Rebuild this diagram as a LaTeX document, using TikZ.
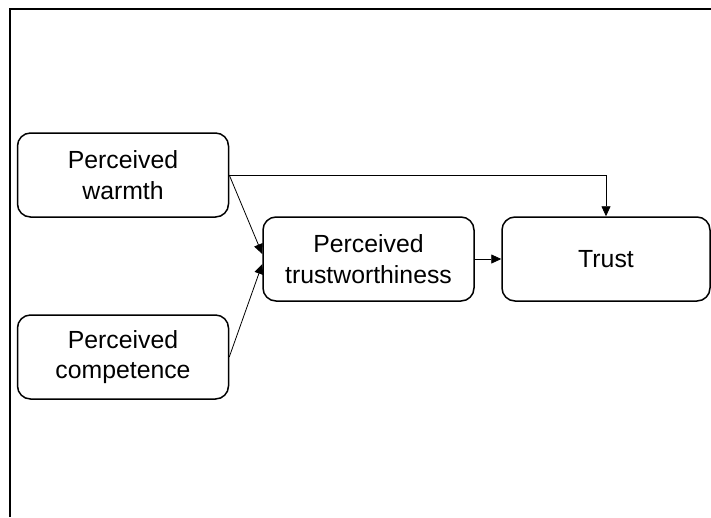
\documentclass[tikz,border=0pt]{standalone}
\usepackage{fontspec}
\setmainfont{Liberation Sans}
\usetikzlibrary{arrows.meta}
\begin{document}
\begin{tikzpicture}[x=1pt,y=-1pt,
  box/.style={draw, line width=1.5pt, rounded corners=13pt, minimum width=211pt, minimum height=84pt, inner sep=0pt, align=center, font=\fontsize{24.8}{30.5}\selectfont},
  conn/.style={line width=0.8pt, -{Triangle[length=10pt,width=9pt]}}]
\useasboundingbox (0,0) rectangle (711,517);
\draw[line width=2pt] (10,517) -- (10,8.5) -- (711,8.5);
\node[box] (warm) at (123,175) {Perceived\\warmth};
\node[box] (comp) at (123,357) {Perceived\\competence};
\node[box] (tw) at (368.5,259) {Perceived\\trustworthiness};
\node[box, minimum width=208pt] (trust) at (606,259) {Trust};
\draw[conn] (warm.east) -- ([yshift=5pt]tw.west);
\draw[conn] (comp.east) -- ([yshift=-5pt]tw.west);
\draw[conn] (warm.east) -| (trust.north);
\draw[conn] (tw.east) -- (trust.west);
\end{tikzpicture}
\end{document}
